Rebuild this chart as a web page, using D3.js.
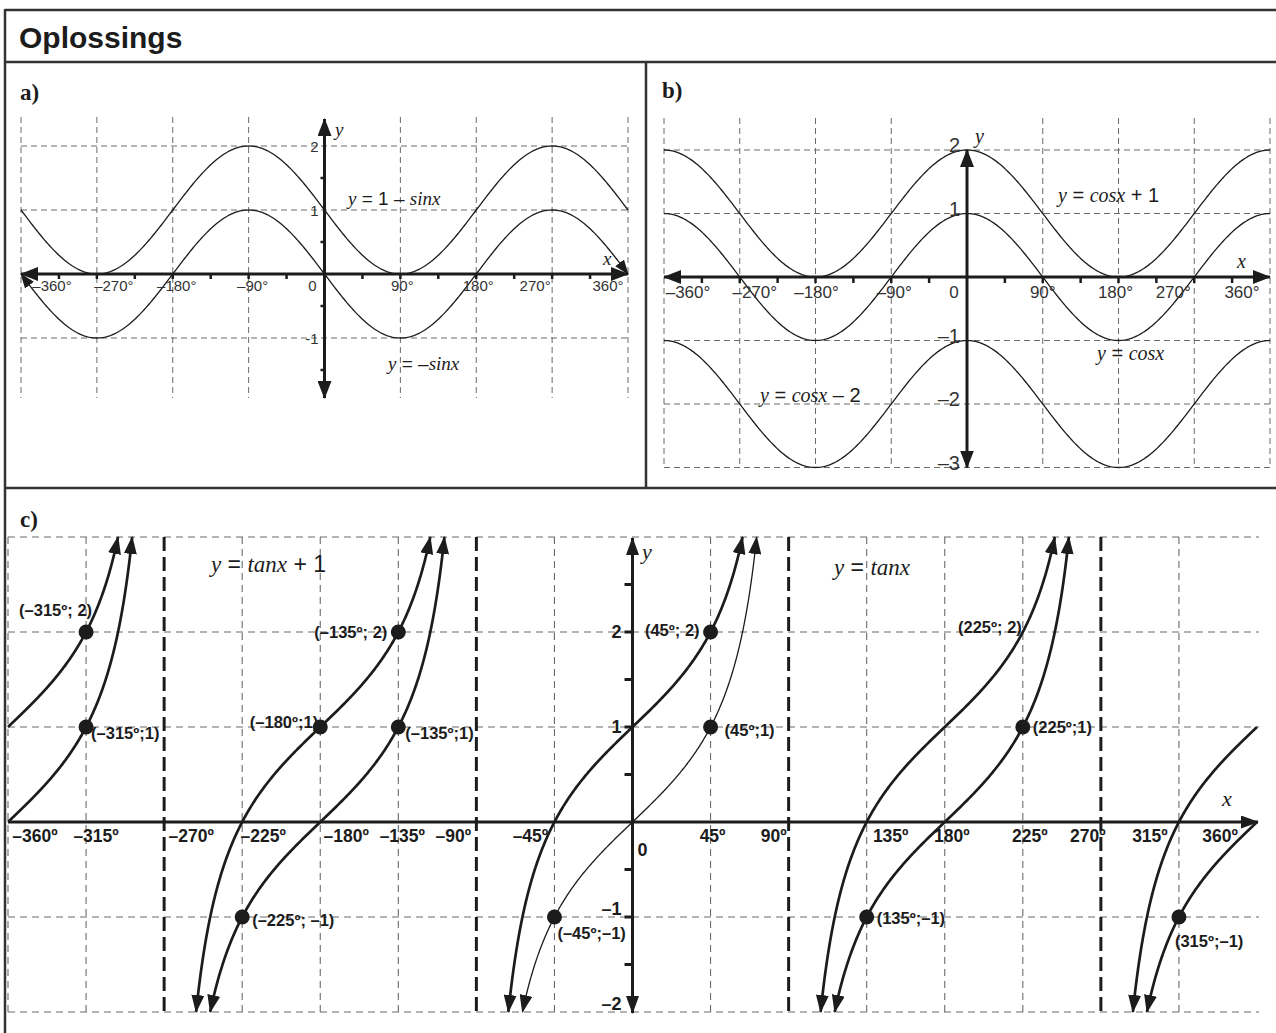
<!DOCTYPE html>
<html><head><meta charset="utf-8">
<script src="https://cdn.jsdelivr.net/npm/d3@7"></script>
<style>body{margin:0;background:#fff}text{white-space:pre}</style>
</head><body><svg id="c" width="1276" height="1033"></svg>
<script>
// ---------------- DATA ----------------
const titleText = "Oplossings";
const panelLetters = ["a)", "b)", "c)"];

// panel a
const degreesA = [-360, -270, -180, -90, 0, 90, 180, 270, 360];
const degreeLabelsA = ["–360°", "–270°", "–180°", "–90°", "0", "90°", "180°", "270°", "360°"];
const gridValuesA = [2, 1, -1];
const valueLabelsA = ["2", "1", "-1"];
const minorDegA = [-315, -270, -225, -180, -135, -90, -45, 45, 90, 135, 180, 225, 270, 315];
const minorValA = [1.5, 0.5, -0.5, -1.5];
const seriesA = [
  { name: "y = 1 – sinx", base: "sin", amp: -1, shift: 1, arrows: false,
    parts: [["y", "i"], [" = 1 – ", "s"], ["sinx", "i"]] },
  { name: "y = –sinx", base: "sin", amp: -1, shift: 0, arrows: true,
    parts: [["y", "i"], [" = –", "s"], ["sinx", "i"]] }
];

// panel b
const degreesB = [-360, -270, -180, -90, 0, 90, 180, 270, 360];
const degreeLabelsB = ["–360°", "–270°", "–180°", "–90°", "0", "90°", "180°", "270°", "360°"];
const gridValuesB = [2, 1, -1, -2, -3];
const valueLabelsB = ["2", "1", "–1", "–2", "–3"];
const minorDegB = [-315, -270, -225, -180, -135, -90, -45, 45, 90, 135, 180, 225, 270, 315];
const seriesB = [
  { name: "y = cosx + 1", base: "cos", amp: 1, shift: 1, parts: [["y", "i"], [" = ", "s"], ["cosx", "i"], [" + 1", "s"]] },
  { name: "y = cosx", base: "cos", amp: 1, shift: 0, parts: [["y", "i"], [" = ", "s"], ["cosx", "i"]] },
  { name: "y = cosx – 2", base: "cos", amp: 1, shift: -2, parts: [["y", "i"], [" = ", "s"], ["cosx", "i"], [" – 2", "s"]] }
];

// panel c
const degreesC = [-360, -315, -270, -225, -180, -135, -90, -45, 0, 45, 90, 135, 180, 225, 270, 315, 360];
const degreeLabelsC = ["–360º", "–315º", "–270º", "–225º", "–180º", "–135º", "–90º", "–45º", "", "45º", "90º", "135º", "180º", "225º", "270º", "315º", "360º"];
const asymptotesC = [-270, -90, 90, 270];
const gridValuesC = [3, 2, 1, -1, -2];
const valueLabelsC = [["2", 2], ["1", 1], ["–1", -1], ["–2", -2]];
const minorValC = [2.5, 1.5, 0.5, -0.5, -1.5];
const branchCentersC = [-360, -180, 0, 180, 360];
const seriesC = [
  { name: "y = tanx + 1", shift: 1, parts: [["y", "i"], [" = ", "s"], ["tanx", "i"], [" + 1", "s"]] },
  { name: "y = tanx", shift: 0, parts: [["y", "i"], [" = ", "s"], ["tanx", "i"]] }
];
const pointsC = [
  { x: -315, y: 2, label: "(–315º; 2)", dot: true },
  { x: -315, y: 1, label: "(–315º;1)", dot: true },
  { x: -135, y: 2, label: "(–135º; 2)", dot: true },
  { x: -180, y: 1, label: "(–180º;1)", dot: true },
  { x: -135, y: 1, label: "(–135º;1)", dot: true },
  { x: -225, y: -1, label: "(–225º; –1)", dot: true },
  { x: 45, y: 2, label: "(45º; 2)", dot: true },
  { x: 45, y: 1, label: "(45º;1)", dot: true },
  { x: -45, y: -1, label: "(–45º;–1)", dot: true },
  { x: 135, y: -1, label: "(135º;–1)", dot: true },
  { x: 225, y: 2, label: "(225º; 2)", dot: false },
  { x: 225, y: 1, label: "(225º;1)", dot: true },
  { x: 315, y: -1, label: "(315º;–1)", dot: true }
];

// ---------------- LAYOUT / STYLE ----------------
const sans = "'Liberation Sans', Arial, sans-serif";
const serif = "'Liberation Serif', 'Times New Roman', serif";
const ink = "#1c1c1c";
const gridCol = "#6a6a6a";
const labelDxA = { "-360": 31, "-270": 17, "-180": 4, "-90": 4, "0": -12, "90": 2, "180": 2, "270": -17, "360": -20 };
const labelDxB = { "-360": 24, "-270": 15, "-180": 1, "-90": 3, "0": -13, "90": 0, "180": -3, "270": -21, "360": -28 };
const labelDxC = { "-360": 27, "-315": 10, "-270": 27, "-225": 21, "-180": 26, "-135": 4, "-90": -23, "-45": -24,
  "45": 2, "90": -15, "135": 24, "180": 7, "225": 7, "270": -13, "315": -29, "360": -37 };
const pointLabelLayout = [
  { anchor: "end", dx: 6, dy: -16 },
  { anchor: "start", dx: 5, dy: 12 },
  { anchor: "end", dx: -11, dy: 6 },
  { anchor: "end", dx: -2, dy: 1 },
  { anchor: "start", dx: 7, dy: 12 },
  { anchor: "start", dx: 10, dy: 9 },
  { anchor: "end", dx: -11, dy: 4 },
  { anchor: "start", dx: 14, dy: 9 },
  { anchor: "start", dx: 3, dy: 22 },
  { anchor: "start", dx: 10, dy: 7 },
  { anchor: "end", dx: -1, dy: 1 },
  { anchor: "start", dx: 10, dy: 6 },
  { anchor: "start", dx: -4, dy: 30 }
];

const svg = d3.select("#c");
svg.append("rect").attr("width", 1276).attr("height", 1033).attr("fill", "#fff");
const defs = svg.append("defs");
function arrow(id, len, hw) {
  defs.append("marker").attr("id", id).attr("viewBox", `0 0 ${len} ${2 * hw}`)
    .attr("refX", len - 1).attr("refY", hw).attr("markerWidth", len).attr("markerHeight", 2 * hw)
    .attr("markerUnits", "userSpaceOnUse").attr("orient", "auto-start-reverse")
    .append("path").attr("d", `M0,0L${len},${hw}L0,${2 * hw}Z`).attr("fill", ink);
}
arrow("axA", 18, 7);
arrow("crvA", 15, 5.5);
arrow("axC", 18, 6.5);
arrow("crvC", 18, 6.5);

const rad = d => d * Math.PI / 180;
const trig = (s, d) => s.shift + s.amp * (s.base === "sin" ? Math.sin(rad(d)) : Math.cos(rad(d)));

function eqLabel(g, x, y, parts, size) {
  const t = g.append("text").attr("x", x).attr("y", y).attr("font-size", size).attr("fill", ink);
  parts.forEach(([s, st]) => t.append("tspan").text(s)
    .attr("font-family", st === "i" ? serif : sans)
    .attr("font-style", st === "i" ? "italic" : "normal"));
  return t;
}
function txt(g, x, y, s, o) {
  return g.append("text").attr("x", x).attr("y", y).text(s)
    .attr("font-family", o.family || sans).attr("font-size", o.size)
    .attr("font-weight", o.weight || "normal").attr("font-style", o.style || "normal")
    .attr("text-anchor", o.anchor || "start").attr("fill", o.fill || ink);
}

// ---------------- FRAME ----------------
const frame = svg.append("g").attr("stroke", "#333").attr("stroke-width", 2.5);
frame.append("line").attr("x1", 5).attr("x2", 1276).attr("y1", 10).attr("y2", 10);
frame.append("line").attr("x1", 5).attr("x2", 5).attr("y1", 9).attr("y2", 1033);
frame.append("line").attr("x1", 5).attr("x2", 1276).attr("y1", 62).attr("y2", 62);
frame.append("line").attr("x1", 646).attr("x2", 646).attr("y1", 62).attr("y2", 488);
frame.append("line").attr("x1", 5).attr("x2", 1276).attr("y1", 488).attr("y2", 488);
txt(svg, 19, 48, titleText, { size: 30, weight: "bold" });
txt(svg, 20, 100, panelLetters[0], { size: 23, weight: "bold", family: serif });
txt(svg, 662, 98, panelLetters[1], { size: 23, weight: "bold", family: serif });
txt(svg, 20, 527, panelLetters[2], { size: 23, weight: "bold", family: serif });

// ---------------- PANEL A ----------------
{
  const x = d3.scaleLinear().domain([-360, 360]).range([21, 628]);
  const y = d3.scaleLinear().domain([-1, 2]).range([338, 146]);
  const g = svg.append("g");
  g.selectAll("line.vg").data(degreesA.filter(d => d !== 0)).join("line").attr("class", "vg")
    .attr("x1", d => x(d)).attr("x2", d => x(d)).attr("y1", 117).attr("y2", 398)
    .attr("stroke", gridCol).attr("stroke-width", 1).attr("stroke-dasharray", "6,4");
  g.selectAll("line.hg").data(gridValuesA).join("line").attr("class", "hg")
    .attr("x1", x(-360)).attr("x2", x(360)).attr("y1", d => y(d)).attr("y2", d => y(d))
    .attr("stroke", gridCol).attr("stroke-width", 1).attr("stroke-dasharray", "6,4");
  // axes
  g.append("line").attr("x1", x(-360)).attr("x2", x(360)).attr("y1", y(0)).attr("y2", y(0))
    .attr("stroke", ink).attr("stroke-width", 3).attr("marker-start", "url(#axA)").attr("marker-end", "url(#axA)");
  g.append("line").attr("x1", x(0)).attr("x2", x(0)).attr("y1", 398).attr("y2", 119)
    .attr("stroke", ink).attr("stroke-width", 3).attr("marker-start", "url(#axA)").attr("marker-end", "url(#axA)");
  g.selectAll("line.tx").data(minorDegA).join("line").attr("class", "tx")
    .attr("x1", d => x(d)).attr("x2", d => x(d)).attr("y1", y(0)).attr("y2", y(0) + 5)
    .attr("stroke", ink).attr("stroke-width", 2.5);
  g.selectAll("line.ty").data(minorValA).join("line").attr("class", "ty")
    .attr("x1", x(0) - 4).attr("x2", x(0)).attr("y1", d => y(d)).attr("y2", d => y(d))
    .attr("stroke", ink).attr("stroke-width", 2.5);
  // curves
  const samples = d3.range(-360, 361, 2);
  const line = d3.line().x(d => x(d[0])).y(d => y(d[1]));
  seriesA.forEach(s => {
    g.append("path").datum(samples.map(d => [d, trig(s, d)])).attr("d", line)
      .attr("fill", "none").attr("stroke", ink).attr("stroke-width", 1.3)
      .attr("marker-start", s.arrows ? "url(#crvA)" : null).attr("marker-end", s.arrows ? "url(#crvA)" : null);
  });
  // labels
  degreesA.forEach((d, i) => txt(g, x(d) + labelDxA[d], 291, degreeLabelsA[i], { size: 15, anchor: "middle", fill: "#333" }));
  gridValuesA.forEach((v, i) => txt(g, x(0) - 6, y(v) + 6, valueLabelsA[i], { size: 15, anchor: "end", fill: "#333" }));
  txt(g, 335, 136, "y", { size: 19, family: serif, style: "italic" });
  txt(g, 603, 265, "x", { size: 19, family: serif, style: "italic" });
  eqLabel(g, 348, 205, seriesA[0].parts, 19);
  eqLabel(g, 388, 370, seriesA[1].parts, 19);
}

// ---------------- PANEL B ----------------
{
  const x = d3.scaleLinear().domain([-360, 360]).range([664, 1270]);
  const y = d3.scaleLinear().domain([-3, 2]).range([467.5, 150]);
  const g = svg.append("g");
  g.selectAll("line.vg").data(degreesB.filter(d => d !== 0)).join("line").attr("class", "vg")
    .attr("x1", d => x(d)).attr("x2", d => x(d)).attr("y1", 118).attr("y2", 468)
    .attr("stroke", gridCol).attr("stroke-width", 1).attr("stroke-dasharray", "6,4");
  g.selectAll("line.hg").data(gridValuesB).join("line").attr("class", "hg")
    .attr("x1", x(-360)).attr("x2", x(360)).attr("y1", d => y(d)).attr("y2", d => y(d))
    .attr("stroke", gridCol).attr("stroke-width", 1).attr("stroke-dasharray", "6,4");
  g.append("line").attr("x1", x(-360)).attr("x2", x(360)).attr("y1", y(0)).attr("y2", y(0))
    .attr("stroke", ink).attr("stroke-width", 3).attr("marker-start", "url(#axA)").attr("marker-end", "url(#axA)");
  g.append("line").attr("x1", x(0)).attr("x2", x(0)).attr("y1", y(-3)).attr("y2", y(2))
    .attr("stroke", ink).attr("stroke-width", 3).attr("marker-start", "url(#axA)").attr("marker-end", "url(#axA)");
  g.selectAll("line.tx").data(minorDegB).join("line").attr("class", "tx")
    .attr("x1", d => x(d)).attr("x2", d => x(d)).attr("y1", y(0)).attr("y2", y(0) + 6)
    .attr("stroke", ink).attr("stroke-width", 2.5);
  const samples = d3.range(-360, 361, 2);
  const line = d3.line().x(d => x(d[0])).y(d => y(d[1]));
  seriesB.forEach(s => {
    g.append("path").datum(samples.map(d => [d, trig(s, d)])).attr("d", line)
      .attr("fill", "none").attr("stroke", ink).attr("stroke-width", 1.3);
  });
  degreesB.forEach((d, i) => txt(g, x(d) + labelDxB[d], 298, degreeLabelsB[i], { size: 17, anchor: "middle", fill: "#333" }));
  gridValuesB.forEach((v, i) => txt(g, x(0) - 7, y(v) + 2, valueLabelsB[i], { size: 20, anchor: "end", fill: "#333" }));
  txt(g, 975, 143, "y", { size: 20, family: serif, style: "italic" });
  txt(g, 1237, 268, "x", { size: 20, family: serif, style: "italic" });
  eqLabel(g, 1058, 202, seriesB[0].parts, 20);
  eqLabel(g, 1097, 360, seriesB[1].parts, 20);
  eqLabel(g, 760, 402, seriesB[2].parts, 20);
}

// ---------------- PANEL C ----------------
{
  const x = d3.scaleLinear().domain([-360, 360]).range([8, 1257]);
  const y = d3.scaleLinear().domain([-2, 3]).range([1012, 537]);
  const g = svg.append("g");
  g.selectAll("line.vg").data(degreesC.filter(d => d !== 0 && d !== 360 && !asymptotesC.includes(d))).join("line").attr("class", "vg")
    .attr("x1", d => x(d)).attr("x2", d => x(d)).attr("y1", y(3)).attr("y2", y(-2))
    .attr("stroke", gridCol).attr("stroke-width", 1.1).attr("stroke-dasharray", "7,5");
  g.selectAll("line.hg").data(gridValuesC).join("line").attr("class", "hg")
    .attr("x1", x(-360)).attr("x2", x(360) + 2).attr("y1", d => y(d)).attr("y2", d => y(d))
    .attr("stroke", gridCol).attr("stroke-width", 1.1).attr("stroke-dasharray", "7,5");
  g.selectAll("line.as").data(asymptotesC).join("line").attr("class", "as")
    .attr("x1", d => x(d)).attr("x2", d => x(d)).attr("y1", y(3)).attr("y2", y(-2))
    .attr("stroke", ink).attr("stroke-width", 3).attr("stroke-dasharray", "14,6");
  // axes
  g.append("line").attr("x1", x(-360)).attr("x2", x(360) + 1).attr("y1", y(0)).attr("y2", y(0))
    .attr("stroke", ink).attr("stroke-width", 3).attr("marker-end", "url(#axC)");
  g.append("line").attr("x1", x(0)).attr("x2", x(0)).attr("y1", y(-2) + 1).attr("y2", y(3) + 1)
    .attr("stroke", ink).attr("stroke-width", 3).attr("marker-start", "url(#axC)").attr("marker-end", "url(#axC)");
  g.selectAll("line.ty").data(minorValC.concat([2, 1, -1])).join("line").attr("class", "ty")
    .attr("x1", x(0) - 8).attr("x2", x(0)).attr("y1", d => y(d)).attr("y2", d => y(d))
    .attr("stroke", ink).attr("stroke-width", 3);
  // tan branches
  const line = d3.line().x(d => x(d[0])).y(d => y(d[1]));
  seriesC.forEach(s => {
    branchCentersC.forEach(c => {
      let x0 = c + Math.atan(-2 - s.shift) * 180 / Math.PI;
      let x1 = c + Math.atan(3 - s.shift) * 180 / Math.PI;
      let a0 = true, a1 = true;
      if (x0 < -360) { x0 = -360; a0 = false; }
      if (x1 > 360) { x1 = 360; a1 = false; }
      if (x1 <= x0) return;
      const pts = d3.range(0, 301).map(i => {
        const t = x0 + (x1 - x0) * i / 300;
        return [t, Math.tan(rad(t - c)) + s.shift];
      });
      const thin = (s.shift === 0 && c === 0);
      g.append("path").datum(pts).attr("d", line).attr("fill", "none")
        .attr("stroke", ink).attr("stroke-width", thin ? 1.3 : 2.7)
        .attr("marker-start", a0 ? "url(#crvC)" : null).attr("marker-end", a1 ? "url(#crvC)" : null);
    });
  });
  // points
  g.selectAll("circle.pt").data(pointsC.filter(p => p.dot)).join("circle").attr("class", "pt")
    .attr("cx", p => x(p.x)).attr("cy", p => y(p.y)).attr("r", 7.5).attr("fill", ink);
  pointsC.forEach((p, i) => {
    const L = pointLabelLayout[i];
    txt(g, x(p.x) + L.dx, y(p.y) + L.dy, p.label, { size: 16.5, weight: "bold", anchor: L.anchor });
  });
  // tick labels
  degreesC.forEach((d, i) => {
    if (degreeLabelsC[i]) txt(g, x(d) + labelDxC[d], 842, degreeLabelsC[i], { size: 17.5, weight: "bold", anchor: "middle" });
  });
  valueLabelsC.forEach(([s, v]) => txt(g, x(0) - 11, y(v) + (v > 0 ? 6 : -2), s, { size: 18, weight: "bold", anchor: "end" }));
  txt(g, x(0) + 5, 856, "0", { size: 18, weight: "bold" });
  txt(g, 642, 559, "y", { size: 22, family: serif, style: "italic" });
  txt(g, 1222, 806, "x", { size: 22, family: serif, style: "italic" });
  eqLabel(g, 211, 572, seriesC[0].parts, 23);
  eqLabel(g, 834, 575, seriesC[1].parts, 23);
}
</script></body></html>
